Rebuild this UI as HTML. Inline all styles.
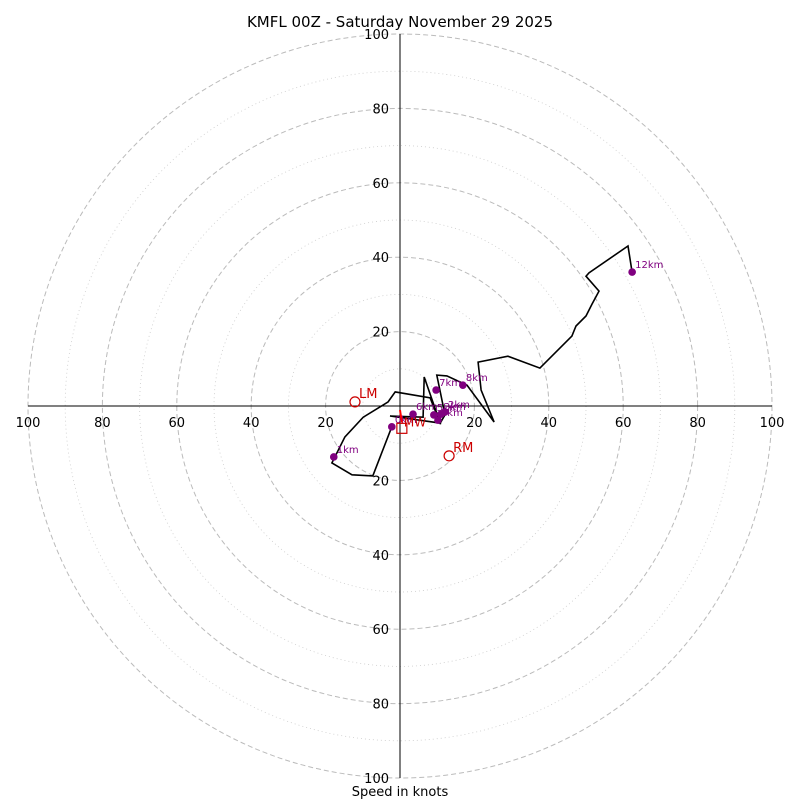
<!DOCTYPE html>
<html><head><meta charset="utf-8">
<style>
html,body{margin:0;padding:0;background:#fff;}
svg{display:block;font-family:"DejaVu Sans","Liberation Sans",sans-serif;}
</style></head>
<body>
<svg id="chart" width="800" height="800" viewBox="0 0 800 800">
<text x="400" y="27" text-anchor="middle" font-size="15">KMFL 00Z - Saturday November 29 2025</text>
<g id="rings"></g>
<g id="axes"></g>
<g id="hodo"></g>
<text x="400" y="796" text-anchor="middle" font-size="13">Speed in knots</text>
</svg>
<script>
const ringValues=[10,20,30,40,50,60,70,80,90,100];
const tickLabels=[20,40,60,80,100];
const windU=[-2.2,-7.3,-12.9,-18.3,-14.8,-9.9,-3.2,-1.3,8.1,10.8,-2.7,6.2,6.5,10.8,12.1,9.9,12.6,18.0,25.3,21.8,21.0,29.0,37.6,46.2,47.3,50.0,51.6,53.5,50.0,50.8,61.3,62.4];
const windV=[-5.6,-18.8,-18.5,-15.3,-8.3,-3.0,1.1,3.8,2.2,-4.6,-2.7,-3.0,7.8,-4.6,-2.4,8.3,8.1,5.6,-4.3,4.3,11.8,13.4,10.2,18.8,21.5,24.2,27.4,30.9,34.9,35.8,43.0,36.0];
const markerLabels=["1km","2km","3km","4km","5km","6km","7km","8km","12km","0km"];
const markerU=[-17.8,12.1,11.0,10.2,9.1,3.5,9.7,16.9,62.4,-2.2];
const markerV=[-13.7,-1.6,-2.2,-3.8,-2.4,-2.2,4.3,5.6,36.0,-5.6];
const stormLabels=["LM","RM","MW"];
const stormU=[-12.1,13.2,0.5];
const stormV=[1.1,-13.4,-6.0];

const NS="http://www.w3.org/2000/svg";
const cx=400,cy=406,scale=3.72;
const X=u=>cx+u*scale, Y=v=>cy-v*scale;
function mk(tag,attrs,parent){const e=document.createElementNS(NS,tag);for(const k in attrs)e.setAttribute(k,attrs[k]);parent.appendChild(e);return e;}
const rings=document.getElementById('rings'),axes=document.getElementById('axes'),hodo=document.getElementById('hodo');

ringValues.forEach(r=>{
  const major=r%20===0;
  const c=mk('circle',{cx:cx,cy:cy,r:r*scale,fill:'none',stroke:major?'#bbb':'#ccc','stroke-width':major?1:0.8,'stroke-dasharray':major?'5,3':'1,3'},rings);
  
  
});
const xa=mk('line',{x1:X(-100),y1:cy,x2:X(100),y2:cy,stroke:'#000','stroke-width':1},axes);


const ya=mk('line',{x1:cx,y1:Y(100),x2:cx,y2:Y(-100),stroke:'#000','stroke-width':1},axes);


tickLabels.forEach(t=>{
  [-1,1].forEach(s=>{
    const tx=mk('text',{x:X(s*t),y:cy+21,'text-anchor':'middle','font-size':13},axes);tx.textContent=t;
    
    
    const ty=mk('text',{x:cx-11,y:Y(s*t)+5,'text-anchor':'end','font-size':13},axes);ty.textContent=t;
    
    
  });
});
const pts=windU.map((u,i)=>X(u).toFixed(1)+','+Y(windV[i]).toFixed(1)).join(' ');
const pl=mk('polyline',{points:pts,fill:'none',stroke:'#000','stroke-width':1.6,'stroke-linejoin':'miter'},hodo);


markerLabels.forEach((lab,i)=>{
  const d=mk('circle',{cx:X(markerU[i]),cy:Y(markerV[i]),r:3.8,fill:'#800080'},hodo);
  
  
  const t=mk('text',{x:X(markerU[i])+3,y:Y(markerV[i])-4,'font-size':10,fill:'#800080'},hodo);t.textContent=lab;
  
  
});
const arr=mk('line',{x1:cx,y1:cy+4,x2:X(stormU[2]),y2:Y(stormV[2])-6,stroke:'#f00','stroke-width':2},hodo);


stormLabels.forEach((lab,i)=>{
  const x=X(stormU[i]),y=Y(stormV[i]);
  let m;
  if(lab==='MW') m=mk('rect',{x:x-5,y:y-5,width:10,height:10,fill:'none',stroke:'#c00','stroke-width':1.2},hodo);
  else m=mk('circle',{cx:x,cy:y,r:5,fill:'none',stroke:'#c00','stroke-width':1.2},hodo);
  
  
  const t=mk('text',{x:x+(lab==='MW'?2:4),y:y-(lab==='MW'?2:4),'font-size':lab==='MW'?12:13,fill:'#c00'},hodo);t.textContent=lab;
  
  
});
</script>
</body></html>
